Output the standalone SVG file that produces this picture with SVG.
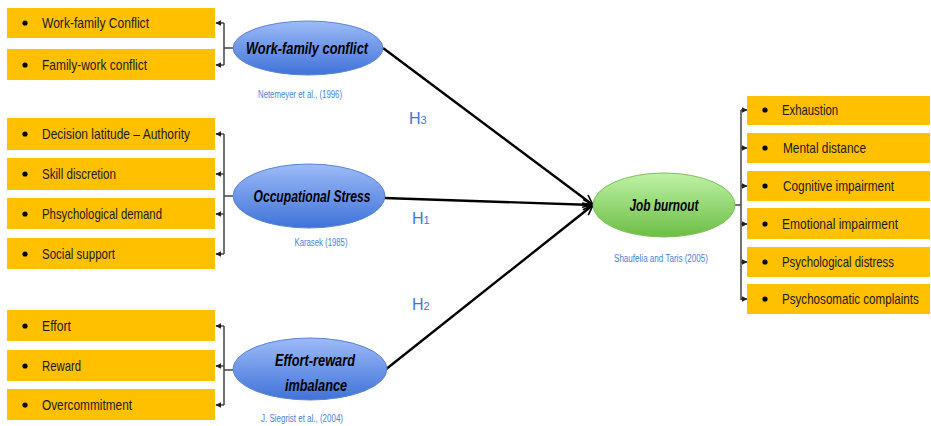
<svg xmlns="http://www.w3.org/2000/svg" width="931" height="426" viewBox="0 0 931 426">
<defs>
<linearGradient id="gBlue" x1="0" y1="0" x2="0" y2="1">
<stop offset="0" stop-color="#9dbbf7"/>
<stop offset="1" stop-color="#3f72d9"/>
</linearGradient>
<linearGradient id="gGreen" x1="0" y1="0" x2="0" y2="1">
<stop offset="0" stop-color="#bff3a6"/>
<stop offset="1" stop-color="#6cbd45"/>
</linearGradient>
<marker id="aSmall" viewBox="0 0 10 10" refX="9" refY="5" markerWidth="6" markerHeight="6" orient="auto" markerUnits="userSpaceOnUse">
<path d="M0,0 L10,5 L0,10 Z" fill="#222"/>
</marker>
<marker id="aOpen" viewBox="0 0 12 12" refX="11" refY="6" markerWidth="12" markerHeight="12" orient="auto" markerUnits="userSpaceOnUse">
<path d="M1,1 L11,6 L1,11" fill="none" stroke="#000" stroke-width="1.6"/>
</marker>
</defs>
<style>
.box{fill:#FFC000;}
.item{font-family:"Liberation Sans",Arial,sans-serif;font-size:15px;fill:#1a1a1a;}
.dot{fill:#000;}
.br{stroke:#444;stroke-width:1.5;fill:none;}
.ell{font-family:"Liberation Sans",Arial,sans-serif;font-size:17px;font-weight:bold;font-style:italic;fill:#000;}
.cite{font-family:"Liberation Sans",Arial,sans-serif;font-size:10px;fill:#4a7fe0;}
.h{font-family:"Liberation Sans",Arial,sans-serif;font-size:16px;fill:#3f74e0;}
.main{stroke:#000;stroke-width:2.4;fill:none;}
</style>
<rect width="931" height="426" fill="#fff"/>

<g id="connectors">
<path class="br" d="M233,48 H224 M224,23 V65"/>
<line class="br" x1="224" y1="23" x2="216" y2="23" marker-end="url(#aSmall)"/>
<line class="br" x1="224" y1="65" x2="216" y2="65" marker-end="url(#aSmall)"/>
<path class="br" d="M233,196 H224 M224,134 V254"/>
<line class="br" x1="224" y1="134" x2="216" y2="134" marker-end="url(#aSmall)"/>
<line class="br" x1="224" y1="174" x2="216" y2="174" marker-end="url(#aSmall)"/>
<line class="br" x1="224" y1="214" x2="216" y2="214" marker-end="url(#aSmall)"/>
<line class="br" x1="224" y1="254" x2="216" y2="254" marker-end="url(#aSmall)"/>
<path class="br" d="M233,370 H224 M224,326 V405"/>
<line class="br" x1="224" y1="326" x2="216" y2="326" marker-end="url(#aSmall)"/>
<line class="br" x1="224" y1="366" x2="216" y2="366" marker-end="url(#aSmall)"/>
<line class="br" x1="224" y1="405" x2="216" y2="405" marker-end="url(#aSmall)"/>
<path class="br" d="M735,205 H741 M741,110 V300"/>
<line class="br" x1="741" y1="110" x2="747" y2="110" marker-end="url(#aSmall)"/>
<line class="br" x1="741" y1="148" x2="747" y2="148" marker-end="url(#aSmall)"/>
<line class="br" x1="741" y1="186" x2="747" y2="186" marker-end="url(#aSmall)"/>
<line class="br" x1="741" y1="224" x2="747" y2="224" marker-end="url(#aSmall)"/>
<line class="br" x1="741" y1="262" x2="747" y2="262" marker-end="url(#aSmall)"/>
<line class="br" x1="741" y1="299" x2="747" y2="299" marker-end="url(#aSmall)"/>
<line class="main" x1="383" y1="48" x2="593" y2="205" marker-end="url(#aOpen)"/>
<line class="main" x1="384" y1="198" x2="593" y2="205" marker-end="url(#aOpen)"/>
<line class="main" x1="385" y1="370" x2="593" y2="205" marker-end="url(#aOpen)"/>
<text class="h" x="409" y="124">H<tspan font-size="11">3</tspan></text>
<text class="h" x="412" y="224">H<tspan font-size="11">1</tspan></text>
<text class="h" x="412" y="310">H<tspan font-size="11">2</tspan></text>
</g>

<g id="wfc-items">
<rect class="box" x="7" y="8" width="208" height="30"/>
<circle class="dot" cx="25" cy="23" r="2.6"/>
<text class="item" x="42" y="28" textLength="107" lengthAdjust="spacingAndGlyphs">Work-family Conflict</text>
<rect class="box" x="7" y="49" width="208" height="31"/>
<circle class="dot" cx="25" cy="65" r="2.6"/>
<text class="item" x="42" y="70" textLength="105" lengthAdjust="spacingAndGlyphs">Family-work conflict</text>
</g>

<g id="os-items">
<rect class="box" x="7" y="118" width="208" height="32"/>
<circle class="dot" cx="25" cy="134" r="2.6"/>
<text class="item" x="42" y="139" textLength="148" lengthAdjust="spacingAndGlyphs">Decision latitude – Authority</text>
<rect class="box" x="7" y="158" width="208" height="32"/>
<circle class="dot" cx="25" cy="174" r="2.6"/>
<text class="item" x="42" y="179" textLength="74" lengthAdjust="spacingAndGlyphs">Skill discretion</text>
<rect class="box" x="7" y="198" width="208" height="31"/>
<circle class="dot" cx="25" cy="214" r="2.6"/>
<text class="item" x="42" y="219" textLength="120" lengthAdjust="spacingAndGlyphs">Phsychological demand</text>
<rect class="box" x="7" y="238" width="208" height="31"/>
<circle class="dot" cx="25" cy="254" r="2.6"/>
<text class="item" x="42" y="259" textLength="73" lengthAdjust="spacingAndGlyphs">Social support</text>
</g>

<g id="eri-items">
<rect class="box" x="7" y="310" width="208" height="31"/>
<circle class="dot" cx="25" cy="326" r="2.6"/>
<text class="item" x="42" y="331" textLength="29" lengthAdjust="spacingAndGlyphs">Effort</text>
<rect class="box" x="7" y="350" width="208" height="31"/>
<circle class="dot" cx="25" cy="366" r="2.6"/>
<text class="item" x="42" y="371" textLength="39" lengthAdjust="spacingAndGlyphs">Reward</text>
<rect class="box" x="7" y="389" width="208" height="31"/>
<circle class="dot" cx="25" cy="405" r="2.6"/>
<text class="item" x="42" y="410" textLength="90" lengthAdjust="spacingAndGlyphs">Overcommitment</text>
</g>

<g id="wfc">
<ellipse cx="308" cy="48" rx="75" ry="27" fill="url(#gBlue)" stroke="#5a84d6" stroke-width="1"/>
<text class="ell" x="307" y="54" text-anchor="middle" textLength="122" lengthAdjust="spacingAndGlyphs">Work-family conflict</text>
<text class="cite" x="300" y="98" text-anchor="middle" textLength="84" lengthAdjust="spacingAndGlyphs">Netemeyer et al., (1996)</text>
</g>

<g id="os">
<ellipse cx="309" cy="196" rx="76" ry="32" fill="url(#gBlue)" stroke="#5a84d6" stroke-width="1"/>
<text class="ell" x="312" y="202" text-anchor="middle" textLength="117" lengthAdjust="spacingAndGlyphs">Occupational Stress</text>
<text class="cite" x="321" y="246" text-anchor="middle" textLength="53" lengthAdjust="spacingAndGlyphs">Karasek (1985)</text>
</g>

<g id="eri">
<ellipse cx="310" cy="369" rx="77" ry="31" fill="url(#gBlue)" stroke="#5a84d6" stroke-width="1"/>
<text class="ell" x="315" y="366" text-anchor="middle" textLength="80" lengthAdjust="spacingAndGlyphs">Effort-reward</text>
<text class="ell" x="316" y="391" text-anchor="middle" textLength="62" lengthAdjust="spacingAndGlyphs">imbalance</text>
<text class="cite" x="302" y="422" text-anchor="middle" textLength="82" lengthAdjust="spacingAndGlyphs">J. Siegrist et al., (2004)</text>
</g>

<g id="jb">
<ellipse cx="664" cy="205" rx="71" ry="32" fill="url(#gGreen)" stroke="#7fc25a" stroke-width="1"/>
<text class="ell" x="664" y="211" text-anchor="middle" textLength="69" lengthAdjust="spacingAndGlyphs">Job burnout</text>
<text class="cite" x="661" y="262" text-anchor="middle" textLength="94" lengthAdjust="spacingAndGlyphs">Shaufelia and Taris (2005)</text>
</g>

<g id="jb-items">
<rect class="box" x="747" y="96" width="183" height="29"/>
<circle class="dot" cx="765" cy="110" r="2.6"/>
<text class="item" x="782" y="115" textLength="56" lengthAdjust="spacingAndGlyphs">Exhaustion</text>
<rect class="box" x="747" y="133" width="183" height="30"/>
<circle class="dot" cx="765" cy="148" r="2.6"/>
<text class="item" x="783" y="153" textLength="83" lengthAdjust="spacingAndGlyphs">Mental distance</text>
<rect class="box" x="747" y="171" width="183" height="30"/>
<circle class="dot" cx="765" cy="186" r="2.6"/>
<text class="item" x="783" y="191" textLength="111" lengthAdjust="spacingAndGlyphs">Cognitive impairment</text>
<rect class="box" x="747" y="208" width="183" height="31"/>
<circle class="dot" cx="765" cy="224" r="2.6"/>
<text class="item" x="782" y="229" textLength="116" lengthAdjust="spacingAndGlyphs">Emotional impairment</text>
<rect class="box" x="747" y="247" width="183" height="30"/>
<circle class="dot" cx="765" cy="262" r="2.6"/>
<text class="item" x="782" y="267" textLength="112" lengthAdjust="spacingAndGlyphs">Psychological distress</text>
<rect class="box" x="747" y="284" width="183" height="30"/>
<circle class="dot" cx="765" cy="299" r="2.6"/>
<text class="item" transform="translate(782,304) scale(0.8,1)" x="0" y="0" textLength="171" lengthAdjust="spacingAndGlyphs">Psychosomatic complaints</text>
</g>
</svg>
